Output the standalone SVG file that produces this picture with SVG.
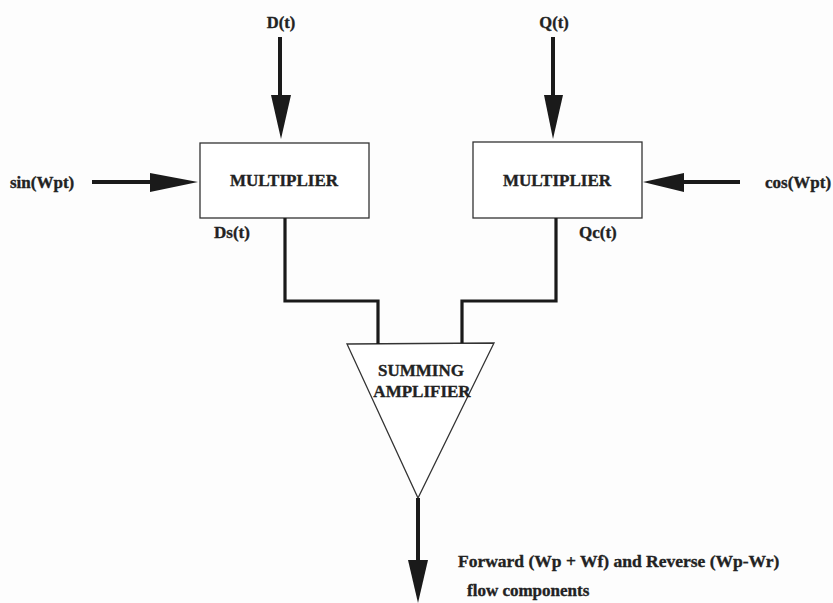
<svg xmlns="http://www.w3.org/2000/svg" width="833" height="603" viewBox="0 0 833 603">
  <style>
    .lbl { font-family: "Liberation Serif", "Times New Roman", serif; font-weight: bold; fill: #222; stroke: #222; stroke-width: 0.35; }
    .box { fill: #fff; stroke: #333; stroke-width: 1.3; }
    .shaft { stroke: #1a1a1a; stroke-width: 4; fill: none; }
    .wire { stroke: #1a1a1a; stroke-width: 3.2; fill: none; stroke-linejoin: miter; }
    .head { fill: #1a1a1a; }
  </style>
  <rect width="833" height="603" fill="#fdfdfd"/>

  <!-- input signals -->
  <g id="in-d">
    <text class="lbl" x="281" y="28" font-size="16.5" text-anchor="middle">D(t)</text>
  </g>
  <g id="in-q">
    <text class="lbl" x="554" y="28" font-size="16.5" text-anchor="middle">Q(t)</text>
  </g>
  <g id="in-sin">
    <text class="lbl" x="10" y="188" font-size="17">sin(Wpt)</text>
  </g>
  <g id="in-cos">
    <text class="lbl" x="765" y="188" font-size="17">cos(Wpt)</text>
  </g>

  <!-- multipliers -->
  <g id="mult-d">
    <rect class="box" x="200" y="143" width="169" height="75"/>
    <text class="lbl" x="284" y="186" font-size="17" text-anchor="middle">MULTIPLIER</text>
  </g>
  <g id="mult-q">
    <rect class="box" x="473" y="142" width="169" height="76"/>
    <text class="lbl" x="557" y="186" font-size="17" text-anchor="middle">MULTIPLIER</text>
  </g>

  <!-- product labels -->
  <g id="lbl-ds">
    <text class="lbl" x="214" y="238" font-size="17">Ds(t)</text>
  </g>
  <g id="lbl-qc">
    <text class="lbl" x="579" y="238" font-size="17">Qc(t)</text>
  </g>

  <!-- summing amplifier -->
  <g id="sum-amp">
    <polygon class="box" points="347,344 494,343 418,498"/>
    <text class="lbl" x="421" y="376" font-size="17" text-anchor="middle">SUMMING</text>
    <text class="lbl" x="422" y="397" font-size="17" text-anchor="middle">AMPLIFIER</text>
  </g>

  <!-- output description -->
  <g id="out-label">
    <text class="lbl" x="458" y="567" font-size="17.5">Forward  (Wp + Wf) and Reverse (Wp-Wr)</text>
    <text class="lbl" x="467" y="596" font-size="17">flow components</text>
  </g>

  <!-- connectors -->
  <g id="connectors">
    <!-- D(t) into left multiplier -->
    <line class="shaft" x1="280" y1="37" x2="280" y2="100"/>
    <polygon class="head" points="271,95 291,95 281,139"/>
    <!-- Q(t) into right multiplier -->
    <line class="shaft" x1="553" y1="37" x2="553" y2="100"/>
    <polygon class="head" points="544,95 563,95 553,139"/>
    <!-- sin(Wpt) into left multiplier -->
    <line class="shaft" x1="92" y1="182" x2="155" y2="182"/>
    <polygon class="head" points="150,173 150,192 198,182"/>
    <!-- cos(Wpt) into right multiplier -->
    <line class="shaft" x1="740" y1="182" x2="680" y2="182"/>
    <polygon class="head" points="684,173 684,192 643,182"/>
    <!-- Ds(t) to summing amplifier -->
    <polyline class="wire" points="285,218 285,301 378,301 378,344"/>
    <!-- Qc(t) to summing amplifier -->
    <polyline class="wire" points="556,218 556,301 462,301 462,343"/>
    <!-- amplifier output -->
    <line class="shaft" x1="418" y1="498" x2="418" y2="565"/>
    <polygon class="head" points="408,560 428,560 418,603"/>
  </g>
</svg>
